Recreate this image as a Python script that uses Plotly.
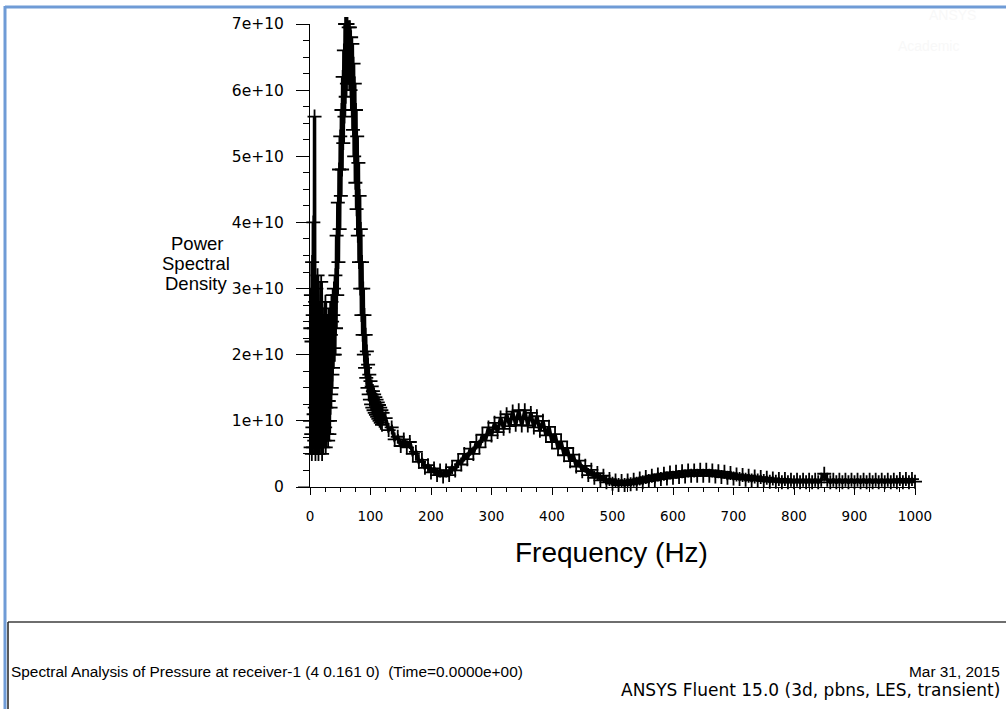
import plotly.graph_objects as go

# ---------------- data (PSD values in units of 1e10) ----------------
freq_low = [i * 0.5 for i in range(81)]          # 0 - 40 Hz, 0.5 Hz bins
psd_low = [1.0, 2.4, 0.6, 2.9, 0.8, 2.2, 0.5, 3.4, 0.9, 2.6, 0.6, 4.0, 1.1, 2.4, 0.7, 5.6,
           1.2, 2.8, 0.5, 2.5, 0.9, 3.0, 0.6, 2.3, 1.0, 3.2, 0.7, 2.6, 0.5, 2.1, 0.8, 2.7,
           0.6, 1.9, 1.1, 2.5, 0.7, 3.1, 0.9, 2.3, 0.5, 2.0, 0.8, 2.6, 0.6, 1.8, 1.0, 2.4,
           0.7, 2.2, 0.9, 2.8, 0.6, 1.9, 1.2, 2.5, 0.8, 2.3, 1.0, 1.8, 0.7, 2.6, 1.3, 2.1,
           0.8, 2.4, 1.0, 2.7, 1.2, 2.3, 1.4, 2.8, 1.5, 2.5, 1.7, 2.9, 1.8, 2.6, 2.0, 3.0,
           2.1]

freq_peak = list(range(41, 121))                 # 41 - 120 Hz, 1 Hz bins
psd_peak = [2.0, 3.2, 2.4, 3.8, 2.9, 4.3, 3.4, 4.8, 3.9, 5.3, 4.4, 5.7, 4.8, 6.2, 5.2, 6.6,
            5.6, 7.0, 5.9, 7.0, 6.1, 7.0, 6.2, 6.95, 6.1, 6.95, 6.0, 6.8, 5.7, 6.7, 5.4, 6.4,
            5.0, 6.1, 4.6, 5.7, 4.2, 5.3, 3.8, 4.9, 3.4, 4.4, 3.0, 3.9, 2.6, 3.4, 2.3, 3.0,
            2.0, 2.6, 1.8, 2.3, 1.65, 2.05, 1.5, 1.85, 1.4, 1.7, 1.32, 1.6, 1.25, 1.52,
            1.2, 1.45, 1.16, 1.4, 1.12, 1.36, 1.09, 1.32, 1.06, 1.28, 1.03, 1.24, 1.0, 1.2,
            0.97, 1.16, 0.94, 1.12]

freq_high = list(range(125, 1001, 5))            # 125 - 1000 Hz
psd_high = [
    1.04, 0.86, 0.90, 0.72, 0.76, 0.62, 0.72, 0.60, 0.68, 0.50,   # 125-170
    0.53, 0.38, 0.41, 0.29, 0.33, 0.22, 0.28, 0.18, 0.25, 0.16,   # 175-220
    0.25, 0.18, 0.30, 0.25, 0.40, 0.34, 0.50, 0.42, 0.58, 0.50,   # 225-270
    0.68, 0.60, 0.79, 0.70, 0.90, 0.78, 0.97, 0.83, 1.05, 0.88,   # 275-320
    1.10, 0.92, 1.14, 0.94, 1.16, 0.93, 1.16, 0.93, 1.12, 0.90,   # 325-370
    1.07, 0.85, 1.00, 0.78, 0.91, 0.68, 0.80, 0.58, 0.69, 0.48,   # 375-420
    0.59, 0.39, 0.49, 0.31, 0.40, 0.24, 0.32, 0.18, 0.26, 0.14,   # 425-470
    0.21, 0.10, 0.17, 0.07, 0.12, 0.05, 0.10, 0.03, 0.09, 0.03,   # 475-520
    0.10, 0.04, 0.11, 0.05, 0.13, 0.07, 0.15, 0.09, 0.17, 0.10,   # 525-570
    0.19, 0.12, 0.20, 0.13, 0.22, 0.14, 0.23, 0.15, 0.24, 0.16,   # 575-620
    0.25, 0.17, 0.25, 0.17, 0.26, 0.17, 0.26, 0.17, 0.25, 0.16,   # 625-670
    0.24, 0.15, 0.23, 0.14, 0.21, 0.13, 0.19, 0.12, 0.18, 0.11,   # 675-720
    0.17, 0.10, 0.16, 0.10, 0.15, 0.09, 0.14, 0.08, 0.13, 0.08,   # 725-770
    0.12, 0.07, 0.12, 0.07, 0.11, 0.07, 0.11, 0.07, 0.11, 0.07,   # 775-820
    0.11, 0.07, 0.11, 0.07, 0.11, 0.20, 0.11, 0.07, 0.11, 0.07,   # 825-870
    0.11, 0.07, 0.11, 0.07, 0.11, 0.07, 0.11, 0.07, 0.11, 0.07,   # 875-920
    0.11, 0.07, 0.11, 0.07, 0.11, 0.07, 0.11, 0.07, 0.11, 0.07,   # 925-970
    0.12, 0.07, 0.12, 0.07, 0.12, 0.08,                           # 975-1000
]

y_ticks = [0, 1e10, 2e10, 3e10, 4e10, 5e10, 6e10, 7e10]
y_tick_labels = ["0", "1e+10", "2e+10", "3e+10", "4e+10", "5e+10", "6e+10", "7e+10"]
x_ticks = [0, 100, 200, 300, 400, 500, 600, 700, 800, 900, 1000]
x_tick_labels = [str(v) for v in x_ticks]

assert len(freq_low) == len(psd_low)
assert len(freq_peak) == len(psd_peak)
assert len(freq_high) == len(psd_high)

freq = freq_low + freq_peak + freq_high
psd = [v * 1e10 for v in psd_low + psd_peak + psd_high]

# ---------------- layout geometry (pixels) ----------------
W, H = 1006, 709
L, R, T, B = 310, 915, 24, 487   # plot area edges


def px(x):
    return (x - L) / (R - L)


def py(y):
    return (B - y) / (B - T)


FONT = "Liberation Sans, Arial, sans-serif"
TICKFONT = "DejaVu Sans, Verdana, sans-serif"

fig = go.Figure()
fig.add_trace(go.Scatter(
    x=freq, y=psd, mode="lines+markers",
    line=dict(color="black", width=3.5),
    marker=dict(symbol="cross-thin", size=10, line=dict(color="black", width=1.8)),
    cliponaxis=False, showlegend=False,
))

fig.update_layout(
    width=W, height=H,
    margin=dict(l=L, r=W - R, t=T, b=H - B, pad=0),
    paper_bgcolor="white", plot_bgcolor="white",
    font=dict(family=FONT, color="black"),
    xaxis=dict(
        range=[0, 1000], tickvals=x_ticks, ticktext=x_tick_labels,
        showgrid=False, zeroline=False, showline=True, linecolor="black", linewidth=1,
        ticks="outside", ticklen=7, tickcolor="black", tickwidth=1,
        ticklabelstandoff=10,
        tickfont=dict(size=13.5, family=TICKFONT, color="black"),
        minor=dict(ticks="outside", dtick=25, ticklen=4, tickcolor="black", showgrid=False),
    ),
    yaxis=dict(
        range=[0, 7e10], tickvals=y_ticks, ticktext=y_tick_labels,
        showgrid=False, zeroline=False, showline=True, linecolor="black", linewidth=1,
        ticks="outside", ticklen=13, tickcolor="black", tickwidth=1,
        ticklabelstandoff=9,
        tickfont=dict(size=15.5, family=TICKFONT, color="black"),
        minor=dict(ticks="outside", dtick=2.5e9, ticklen=6, tickcolor="black", showgrid=False),
    ),
)

annotations = [
    dict(text="Power", x=px(197), y=py(243)),
    dict(text="Spectral", x=px(196), y=py(263)),
    dict(text="Density", x=px(196), y=py(283)),
]
for a in annotations:
    fig.add_annotation(xref="paper", yref="paper", showarrow=False, xanchor="center",
                       yanchor="middle", font=dict(size=18.5, family=FONT, color="black"), **a)

fig.add_annotation(text="Frequency (Hz)", xref="paper", yref="paper", x=px(611), y=py(552),
                   showarrow=False, xanchor="center", yanchor="middle",
                   font=dict(size=28, family=FONT, color="black"))

fig.add_annotation(text="Spectral Analysis of Pressure at receiver-1 (4 0.161 0)  (Time=0.0000e+00)",
                   xref="paper", yref="paper", x=px(9), y=py(671), showarrow=False,
                   xanchor="left", yanchor="middle", font=dict(size=15.4, family=FONT, color="black"))
fig.add_annotation(text="Mar 31, 2015", xref="paper", yref="paper", x=px(1002), y=py(671),
                   showarrow=False, xanchor="right", yanchor="middle",
                   font=dict(size=15.4, family=FONT, color="black"))
fig.add_annotation(text="ANSYS Fluent 15.0 (3d, pbns, LES, transient)", xref="paper", yref="paper",
                   x=px(1002), y=py(690), showarrow=False, xanchor="right", yanchor="middle",
                   font=dict(size=17, family=TICKFONT, color="black"))

# faint watermark, top right
fig.add_annotation(text="ANSYS", xref="paper", yref="paper", x=px(952), y=py(15), showarrow=False,
                   xanchor="center", yanchor="middle", font=dict(size=14, family=FONT, color="#f8f8f8"))
fig.add_annotation(text="Academic", xref="paper", yref="paper", x=px(928), y=py(46), showarrow=False,
                   xanchor="center", yanchor="middle", font=dict(size=14, family=FONT, color="#f8f8f8"))

shapes = [
    # window border (blue)
    dict(type="line", x0=px(5), x1=px(W + 2), y0=py(7), y1=py(7), line=dict(color="#6f9bd6", width=3)),
    dict(type="line", x0=px(5), x1=px(5), y0=py(6), y1=py(H + 2), line=dict(color="#6f9bd6", width=3)),
    # caption box
    dict(type="line", x0=px(8), x1=px(W + 2), y0=py(622), y1=py(622), line=dict(color="#6e6e6e", width=2)),
    dict(type="line", x0=px(8), x1=px(8), y0=py(622), y1=py(H + 2), line=dict(color="#222222", width=1.5)),
    # x-axis line extension to the left of the y-axis
    dict(type="line", x0=px(298), x1=px(L), y0=py(B), y1=py(B), line=dict(color="black", width=1)),
]
for s in shapes:
    fig.add_shape(xref="paper", yref="paper", layer="above", **s)

fig.write_html("out.html")
